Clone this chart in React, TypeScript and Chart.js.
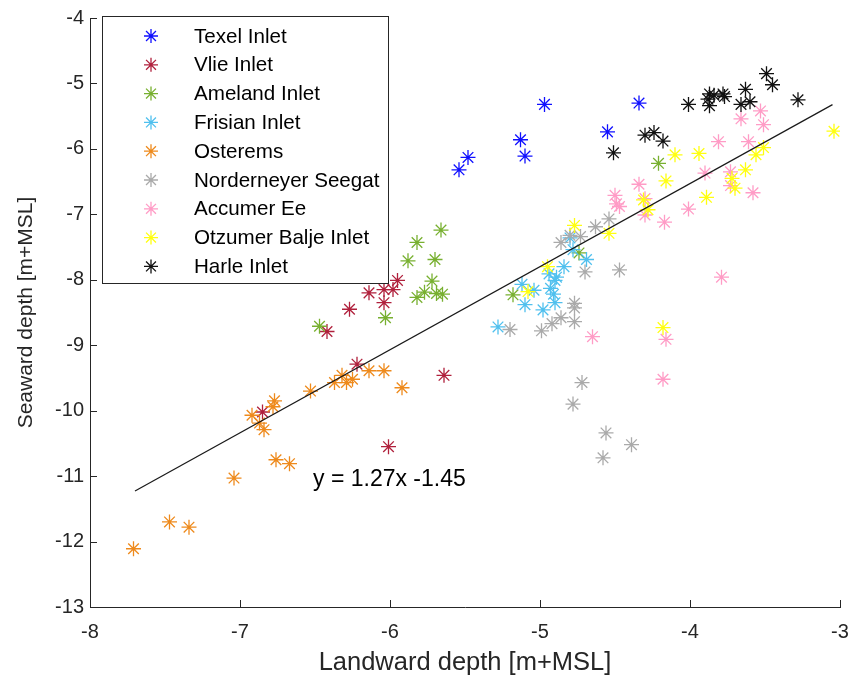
import React, { useEffect, useRef } from "react";
import { Chart, registerables } from "chart.js";

Chart.register(...registerables);

// Landward (x) vs seaward (y) channel depths per inlet, m+MSL
const texelX = [-5.54, -5.48, -5.13, -5.10, -4.97, -4.55, -4.34];
const texelY = [-6.32, -6.13, -5.86, -6.11, -5.32, -5.74, -5.30];

const vlieX = [-6.42, -6.27, -6.14, -6.04, -5.98, -5.95, -6.04, -6.22, -6.85, -5.64, -6.01];
const vlieY = [-8.79, -8.45, -8.20, -8.15, -8.15, -8.01, -8.35, -9.29, -10.02, -9.46, -10.55];

const amelandX = [-6.47, -6.03, -5.88, -5.82, -5.70, -5.66, -5.72, -5.82, -5.77, -5.69, -5.65, -5.18, -4.74, -4.21];
const amelandY = [-8.71, -8.58, -7.71, -7.43, -7.69, -7.24, -8.02, -8.27, -8.19, -8.21, -8.22, -8.23, -7.59, -6.22];

const frisianX = [-5.12, -5.04, -5.10, -4.98, -4.93, -4.90, -4.91, -5.28, -4.90, -4.89, -4.94, -4.84, -4.69, -4.80, -4.78];
const frisianY = [-8.07, -8.16, -8.38, -8.46, -8.13, -8.35, -8.22, -8.72, -8.01, -7.96, -7.91, -7.80, -7.69, -7.36, -7.54];

const ostoremsX = [-7.71, -7.47, -7.34, -7.04, -6.76, -6.67, -6.92, -6.84, -6.87, -6.78, -6.77, -6.53, -6.37, -6.32, -6.29, -6.25, -6.14, -6.04, -5.92];
const ostoremsY = [-12.11, -11.70, -11.78, -11.03, -10.75, -10.81, -10.07, -10.29, -10.19, -9.94, -9.85, -9.70, -9.57, -9.46, -9.57, -9.52, -9.39, -9.39, -9.65];

const norderneyX = [-5.20, -4.99, -4.92, -4.86, -4.77, -4.77, -4.77, -4.72, -4.78, -4.56, -4.39, -4.58, -4.86, -4.80, -4.73, -4.63, -4.54, -4.70, -4.47];
const norderneyY = [-8.76, -8.78, -8.67, -8.58, -8.64, -8.36, -8.43, -9.57, -9.90, -10.34, -10.52, -10.72, -7.43, -7.32, -7.34, -7.19, -7.07, -7.88, -7.85];

const accumerX = [-4.50, -4.34, -3.90, -3.81, -3.73, -3.73, -3.61, -3.58, -3.66, -3.53, -3.51, -4.47, -4.49, -4.30, -4.30, -4.17, -4.01, -4.65, -4.16, -4.18, -3.79];
const accumerY = [-6.71, -6.54, -6.37, -5.89, -6.35, -6.56, -5.89, -6.67, -5.54, -5.42, -5.63, -6.88, -6.84, -6.76, -7.01, -7.12, -6.92, -8.87, -8.91, -9.52, -7.96];

const otzumerX = [-4.10, -3.94, -4.16, -4.31, -4.28, -3.89, -3.72, -3.70, -3.63, -3.56, -3.51, -3.04, -4.77, -4.54, -4.95, -5.08, -4.18];
const otzumerY = [-6.09, -6.07, -6.49, -6.78, -6.93, -6.74, -6.45, -6.60, -6.32, -6.09, -5.98, -5.73, -7.17, -7.29, -7.80, -8.18, -8.73];

const harleX = [-4.51, -4.30, -4.24, -4.18, -4.01, -3.87, -3.88, -3.87, -3.84, -3.78, -3.77, -3.63, -3.66, -3.60, -3.49, -3.45, -3.28];
const harleY = [-6.06, -5.79, -5.75, -5.88, -5.32, -5.34, -5.24, -5.16, -5.18, -5.16, -5.20, -5.09, -5.32, -5.28, -4.85, -5.02, -5.25];

const seriesNames = [
  "Texel Inlet",
  "Vlie Inlet",
  "Ameland Inlet",
  "Frisian Inlet",
  "Osterems",
  "Norderneyer Seegat",
  "Accumer Ee",
  "Otzumer Balje Inlet",
  "Harle Inlet",
];
const seriesColors = ["#1010ff", "#b0203c", "#78b030", "#50c0ee", "#ee8a1c", "#aaaaaa", "#ff9cc6", "#ffff10", "#111111"];
const seriesX = [texelX, vlieX, amelandX, frisianX, ostoremsX, norderneyX, accumerX, otzumerX, harleX];
const seriesY = [texelY, vlieY, amelandY, frisianY, ostoremsY, norderneyY, accumerY, otzumerY, harleY];

// Linear fit y = 1.27x - 1.45 over the landward range
const fitSlope = 1.27;
const fitIntercept = -1.45;
const fitRange = [-7.7, -3.05];
const fitLabel = "y = 1.27x -1.45";

const xTicks = [-8, -7, -6, -5, -4, -3];
const yTicks = [-13, -12, -11, -10, -9, -8, -7, -6, -5, -4];

const FONT = "'Liberation Sans', Arial, Helvetica, sans-serif";
const AXIS_COLOR = "#262626";

function drawStar(ctx: CanvasRenderingContext2D, x: number, y: number, r: number, color: string) {
  ctx.save();
  ctx.strokeStyle = color;
  ctx.lineWidth = 1.3;
  ctx.beginPath();
  for (let i = 0; i < 4; i++) {
    const a = (i * Math.PI) / 4;
    const dx = Math.cos(a) * r;
    const dy = Math.sin(a) * r;
    ctx.moveTo(x - dx, y - dy);
    ctx.lineTo(x + dx, y + dy);
  }
  ctx.stroke();
  ctx.restore();
}

const decorPlugin = {
  id: "decor",
  afterDraw(chart: any) {
    const ctx: CanvasRenderingContext2D = chart.ctx;
    const xs = chart.scales.x;
    const ys = chart.scales.y;
    const area = chart.chartArea;

    // inward tick marks
    ctx.save();
    ctx.strokeStyle = AXIS_COLOR;
    ctx.lineWidth = 1;
    ctx.beginPath();
    for (const t of xTicks) {
      const px = Math.round(xs.getPixelForValue(t)) + 0.5;
      ctx.moveTo(px, area.bottom);
      ctx.lineTo(px, area.bottom - 7);
    }
    for (const t of yTicks) {
      const py = Math.round(ys.getPixelForValue(t)) + 0.5;
      ctx.moveTo(area.left, py);
      ctx.lineTo(area.left + 7, py);
    }
    ctx.stroke();
    ctx.restore();

    // legend box
    const lx = 102, ly = 16, lw = 286, lh = 267;
    ctx.save();
    ctx.fillStyle = "#ffffff";
    ctx.fillRect(lx, ly, lw, lh);
    ctx.strokeStyle = AXIS_COLOR;
    ctx.lineWidth = 1;
    ctx.strokeRect(lx + 0.5, ly + 0.5, lw, lh);
    ctx.font = `20.6px ${FONT}`;
    ctx.textBaseline = "middle";
    ctx.textAlign = "left";
    ctx.fillStyle = "#000000";
    seriesNames.forEach((name, i) => {
      const rowY = 36 + i * 28.8;
      drawStar(ctx, 151, rowY, 7, seriesColors[i]);
      ctx.fillText(name, 194, rowY + 1);
    });

    // fit equation
    ctx.font = `23px ${FONT}`;
    ctx.fillText(fitLabel, 313, 480);

    // axis titles
    ctx.font = `25.5px ${FONT}`;
    ctx.textAlign = "center";
    ctx.fillStyle = AXIS_COLOR;
    ctx.fillText("Landward depth [m+MSL]", (area.left + area.right) / 2, 663);
    ctx.translate(26, (area.top + area.bottom) / 2);
    ctx.rotate(-Math.PI / 2);
    ctx.font = `21px ${FONT}`;
    ctx.fillText("Seaward depth [m+MSL]", 0, 0);
    ctx.restore();
  },
};

export default function App() {
  const canvasRef = useRef<HTMLCanvasElement | null>(null);

  useEffect(() => {
    if (!canvasRef.current) return;
    const scatterSets = seriesNames.map((name, i) => ({
      type: "scatter" as const,
      label: name,
      data: seriesX[i].map((x, j) => ({ x, y: seriesY[i][j] })),
      pointStyle: "star" as const,
      pointRadius: 7.5,
      pointHoverRadius: 7.5,
      borderWidth: 1.3,
      borderColor: seriesColors[i],
      backgroundColor: seriesColors[i],
      order: 100 - i,
    }));
    const fitSet = {
      type: "line" as const,
      label: "fit",
      data: fitRange.map((x) => ({ x, y: fitSlope * x + fitIntercept })),
      borderColor: "#1a1a1a",
      borderWidth: 1.2,
      pointRadius: 0,
      fill: false,
      order: 0,
    };

    const chart = new Chart(canvasRef.current, {
      type: "scatter",
      data: { datasets: [...scatterSets, fitSet] as any },
      options: {
        animation: false,
        responsive: false,
        layout: { padding: { left: 0, right: 22, top: 17, bottom: 0 } },
        plugins: { legend: { display: false }, tooltip: { enabled: false } },
        scales: {
          x: {
            type: "linear",
            min: -8,
            max: -3,
            afterBuildTicks: (s: any) => {
              s.ticks = xTicks.map((v) => ({ value: v }));
            },
            afterFit: (s: any) => {
              s.height = 73;
            },
            grid: { display: false, drawTicks: false },
            border: { display: true, color: AXIS_COLOR, width: 1 },
            ticks: {
              color: AXIS_COLOR,
              font: { family: FONT, size: 20 },
              padding: 13,
              maxRotation: 0,
            },
          },
          y: {
            type: "linear",
            min: -13,
            max: -4,
            afterBuildTicks: (s: any) => {
              s.ticks = yTicks.map((v) => ({ value: v }));
            },
            afterFit: (s: any) => {
              s.width = 90;
            },
            grid: { display: false, drawTicks: false },
            border: { display: true, color: AXIS_COLOR, width: 1 },
            ticks: {
              color: AXIS_COLOR,
              font: { family: FONT, size: 20 },
              padding: 6,
            },
          },
        },
      },
      plugins: [decorPlugin],
    });
    return () => chart.destroy();
  }, []);

  return (
    <div style={{ position: "absolute", left: 0, top: 0, width: 862, height: 680, background: "#ffffff" }}>
      <canvas ref={canvasRef} width={862} height={680} />
    </div>
  );
}
